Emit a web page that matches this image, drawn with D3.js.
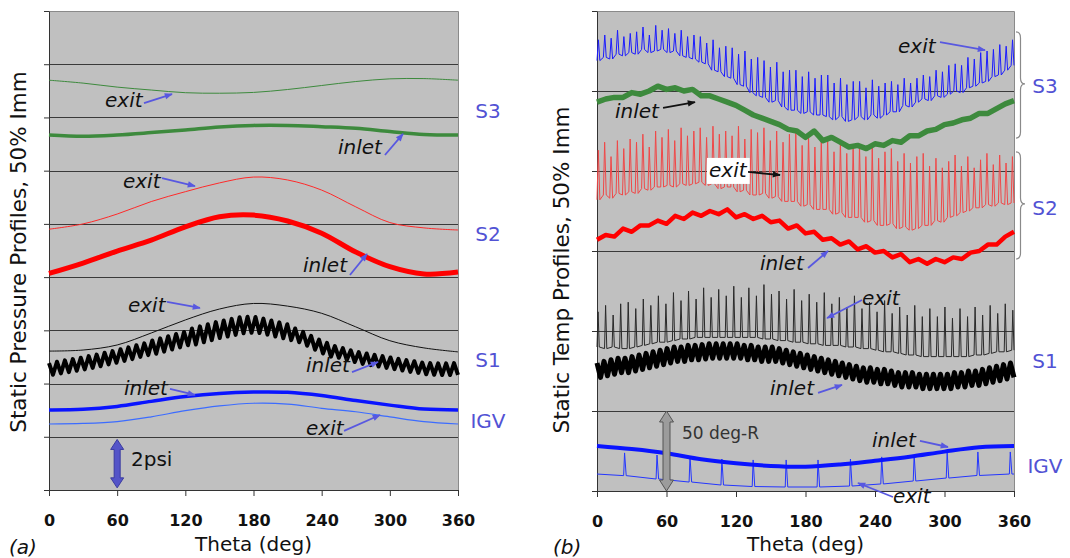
<!DOCTYPE html>
<html><head><meta charset="utf-8">
<script src="https://cdn.jsdelivr.net/npm/d3@7"></script>
<style>
body{margin:0;background:#fff}
svg{display:block}
text{font-family:"DejaVu Sans",sans-serif}
</style>
</head><body>
<svg id="chart" width="1070" height="558"></svg>
<script>
// ---------------- DATA ----------------
const thetaTicks = [0, 60, 120, 180, 240, 300, 360];
const pressureGridPsi = [0, 2, 4, 6, 8, 10, 12, 14, 16, 18];
const tempGridDegR = [0, 50, 100, 150, 200, 250, 300];
const profileTheta = [0, 30, 60, 90, 120, 150, 180, 210, 240, 270, 300, 330, 360];

// (a) static pressure profiles, psi (offset stacked)
const pS3Exit   = [15.40, 15.29, 15.14, 15.03, 14.93, 14.91, 14.94, 15.05, 15.20, 15.35, 15.45, 15.46, 15.40];
const pS3Inlet  = [13.34, 13.29, 13.34, 13.43, 13.53, 13.64, 13.70, 13.70, 13.65, 13.59, 13.47, 13.36, 13.34];
const pS2Exit   = [9.80, 10.00, 10.37, 10.84, 11.21, 11.54, 11.76, 11.65, 11.27, 10.64, 10.05, 9.85, 9.77];
const pS2Inlet  = [8.14, 8.53, 8.98, 9.39, 9.89, 10.27, 10.33, 10.11, 9.65, 8.94, 8.39, 8.12, 8.19];
const pS1Exit   = [5.22, 5.26, 5.45, 5.90, 6.39, 6.80, 7.01, 6.91, 6.64, 6.13, 5.61, 5.34, 5.19];
const pIGVInlet = [3.01, 3.03, 3.14, 3.33, 3.51, 3.63, 3.68, 3.67, 3.55, 3.36, 3.19, 3.04, 3.01];
const pIGVExit  = [2.48, 2.50, 2.57, 2.75, 2.98, 3.16, 3.26, 3.23, 3.07, 2.94, 2.75, 2.57, 2.48];
// S1 inlet: blade-passing oscillation, per-cycle max / min (52 cycles)
const pS1InletHi = [4.77,4.82,4.87,4.92,4.97,5.03,5.09,5.16,5.22,5.29,5.36,5.44,5.51,5.62,5.70,5.78,5.86,5.94,6.07,6.15,
  6.23,6.31,6.37,6.43,6.49,6.51,6.50,6.44,6.37,6.30,6.23,6.07,5.94,5.79,5.65,5.53,5.41,5.33,5.25,5.18,
  5.13,5.08,5.03,4.98,4.93,4.88,4.84,4.79,4.77,4.76,4.76,4.77];
const pS1InletLo = [4.33,4.38,4.43,4.48,4.53,4.59,4.65,4.72,4.78,4.85,4.92,5.00,5.07,5.12,5.20,5.28,5.36,5.44,5.47,5.55,
  5.63,5.71,5.77,5.83,5.89,5.91,5.90,5.84,5.77,5.70,5.63,5.55,5.42,5.27,5.13,5.01,4.97,4.89,4.81,4.74,
  4.69,4.64,4.59,4.54,4.49,4.44,4.40,4.35,4.33,4.32,4.32,4.33];

// (b) static temperature profiles, deg-R (offset stacked)
const tS3ExitLo = [269,271,270,273,272,274,273,276,274,275,276,274,275,272,271,270,268,267,263,262,259,258,254,253,249,247,
  246,243,244,240,238,238,236,237,235,235,234,232,234,231,232,234,232,235,233,235,237,237,241,240,243,
  245,244,247,246,248,250,249,252,253,255,256,259,260,263,266];
const tS3ExitHi = [282,285,283,288,284,286,287,290,285,291,288,289,286,288,284,285,284,280,282,277,278,277,273,275,270,271,
  269,265,268,262,263,263,259,262,258,260,260,255,258,254,256,256,252,257,253,255,256,254,258,255,258,
  260,259,263,262,266,267,266,271,270,274,275,276,279,278,282];
const tS3Inlet = [243,245,246,246,249,248,250,253,251,252,250,251,247,247,245,243,241,238,235,233,231,229,226,225,221,
  225,219,221,218,215,216,214,217,216,219,218,222,222,225,226,229,230,232,233,236,236,239,242,244];
const tS2ExitLo = [182,185,183,186,185,187,186,189,188,190,190,191,190,192,191,192,193,191,192,189,190,190,187,188,185,185,
  186,183,184,181,181,181,178,179,176,176,176,173,174,171,171,171,168,169,166,166,167,164,165,163,164,
  166,166,169,168,171,172,174,175,177,177,179,178,180,179,180];
const tS2ExitHi = [213,218,209,219,214,220,218,223,215,225,221,226,219,227,222,225,227,221,228,223,225,222,228,220,226,224,
  227,219,225,218,223,224,216,222,215,219,221,212,219,211,216,216,209,215,208,212,214,206,211,205,209,
  211,203,208,202,206,210,203,209,202,207,211,204,210,205,209];
const tS2Inlet = [157,160,159,164,162,166,166,169,167,172,170,174,172,175,173,176,171,173,170,172,168,169,164,166,161,
  162,157,158,154,156,151,153,149,150,146,148,143,145,142,145,143,146,145,149,150,154,154,159,162];
const tS1ExitLo = [90,89,90,89,89,90,91,92,93,93,94,95,95,96,96,96,96,96,96,96,96,96,95,95,94,94,93,93,
  92,92,91,91,91,90,90,89,89,88,87,87,86,85,85,84,84,84,84,84,84,84,85,85,86,87,87,88];
const tS1ExitHi = [112,116,110,117,118,114,120,116,122,117,124,119,125,120,127,121,126,122,128,121,127,122,129,123,125,120,126,119,
  123,118,124,117,121,115,122,114,118,112,119,111,115,110,116,109,114,109,115,108,114,109,115,110,116,111,117,113];
const tS1InletHi = [80,81,82,83,83,84,85,86,87,88,89,90,90,91,91,91.5,92,92,92,92,92,91,91,90,90,90,89,88,87,86,
  85,84,83,82,81,80,79,78,77,77,76,76,75,74,74,74,73,73,73,73,73,74,74,75,75,76,77,78,79,80];
const tS1InletLo = [71,72,73,74,74,75,76,77,78,79,80,81,81,82,82,82.5,83,83,83,83,83,82,82,81,81,81,80,79,78,77,
  76,75,74,73,72,71,70,69,68,68,67,67,66,65,65,65,64,64,64,64,64,65,65,66,66,67,68,69,70,71];
const tIGVInlet = [28.1, 26.2, 23.6, 19.8, 17.3, 15.7, 15.2, 16.6, 18.9, 21.4, 24.6, 27.3, 28.1];
const tIGVExitSpikeTheta = [24, 52, 80.5, 108, 135, 163.5, 191, 219, 246, 274, 302.5, 329, 357];
const tIGVExitTop  = [23.8, 22.5, 21.3, 20.0, 19.4, 19.4, 19.4, 20.0, 21.3, 22.5, 23.8, 24.4, 24.4];
const tIGVExitFoot = [9.6, 7.5, 5.6, 3.75, 2.8, 2.5, 2.5, 3.1, 4.4, 6.25, 8.1, 9.7, 10.6];
const tIGVExitEnds = [10.6, 10.6];

// ---------------- DRAWING ----------------
const svg = d3.select('#chart');
svg.append('rect').attr('width', 1070).attr('height', 558).attr('fill', '#fff');
const defs = svg.append('defs');
function marker(id, color) {
  defs.append('marker').attr('id', id).attr('viewBox', '0 0 10 10').attr('refX', 9).attr('refY', 5)
    .attr('markerWidth', 10).attr('markerHeight', 8).attr('markerUnits', 'userSpaceOnUse').attr('orient', 'auto')
    .append('path').attr('d', 'M0,1 L10,5 L0,9 Z').attr('fill', color);
}
const BLUE_NOTE = '#5858e0', LABEL = '#5252d4';
marker('arrBlue', BLUE_NOTE); marker('arrBlack', '#111');

function makePanel(o) {
  const x = d3.scaleLinear().domain([0, 360]).range([o.x0, o.x1]);
  const y = d3.scaleLinear().domain(o.yDomain).range([o.y1, o.y0]);
  const g = svg.append('g');
  g.append('rect').attr('x', o.x0).attr('y', o.y0).attr('width', o.x1 - o.x0).attr('height', o.y1 - o.y0).attr('fill', '#c0c0c0');
  g.selectAll('line.grid').data(o.grid.filter(v => v > o.yDomain[0] && v < o.yDomain[1])).join('line')
    .attr('x1', o.x0).attr('x2', o.x1).attr('y1', d => Math.round(y(d)) + 0.5).attr('y2', d => Math.round(y(d)) + 0.5)
    .attr('stroke', '#3a3a3a').attr('stroke-width', 1.1);
  g.append('path').attr('d', `M${o.x0},${o.y0 + 0.5}H${o.x1 + 0.5}V${o.y1}`).attr('fill', 'none').attr('stroke', '#8a8a8a');
  const ay = d3.axisLeft(y).tickValues(o.grid).tickSize(5).tickSizeOuter(0).tickFormat('');
  const gy = g.append('g').attr('transform', `translate(${o.x0},0)`).call(ay);
  gy.selectAll('path,line').attr('stroke', '#333');
  const ax = d3.axisBottom(x).tickValues(thetaTicks).tickSize(6).tickSizeOuter(0).tickPadding(19);
  const gx = g.append('g').attr('transform', `translate(0,${o.y1})`).call(ax);
  gx.selectAll('path,line').attr('stroke', '#333');
  gx.selectAll('text').attr('font-family', '"DejaVu Sans", sans-serif').attr('font-size', 16).attr('font-weight', 'bold').attr('fill', '#111');
  svg.append('text').attr('x', (o.x0 + o.x1) / 2).attr('y', 551).attr('text-anchor', 'middle')
    .attr('font-size', 20).attr('fill', '#111').text('Theta (deg)');
  svg.append('text').attr('transform', `translate(${o.titleX},${o.titleY}) rotate(-90)`).attr('text-anchor', 'middle')
    .attr('font-size', 21.5).attr('fill', '#111').text(o.title);
  svg.append('text').attr('x', o.tagX).attr('y', 554).attr('font-size', 20).attr('font-style', 'italic').attr('fill', '#111').text(o.tag);
  return { x, y, g };
}

const A = makePanel({ x0: 49, x1: 458, y0: 11, y1: 490, yDomain: [0, 18], grid: pressureGridPsi,
  title: 'Static Pressure Profiles, 50% Imm', titleX: 26, titleY: 252, tag: '(a)', tagX: 9 });
const B = makePanel({ x0: 597, x1: 1014, y0: 11, y1: 491, yDomain: [0, 300], grid: tempGridDegR,
  title: 'Static Temp Profiles, 50% Imm', titleX: 569, titleY: 270, tag: '(b)', tagX: 553 });

function drawPts(p, pts, color, width, curve) {
  p.g.append('path').datum(pts)
    .attr('d', d3.line().x(d => p.x(d[0])).y(d => p.y(d[1])).curve(curve || d3.curveLinear))
    .attr('fill', 'none').attr('stroke', color).attr('stroke-width', width).attr('stroke-linejoin', 'round');
}
const profile = vals => vals.map((v, i) => [profileTheta[i], v]);
const uniform = vals => vals.map((v, i) => [i * 360 / (vals.length - 1), v]);
function zigzag(hi, lo) {
  const m = 2 * hi.length - 1, pts = [];
  hi.forEach((h, i) => { pts.push([2 * i * 360 / m, h]); pts.push([(2 * i + 1) * 360 / m, lo[i]]); });
  return pts;
}
function spikes(lo, hi, rise, fall) {
  const n = lo.length, d = 360 / (n - 1 + fall), pts = [];
  lo.forEach((l, i) => { const t = i * d; pts.push([t, l], [t + rise * d, hi[i]], [t + fall * d, l]); });
  return pts;
}
const smooth = d3.curveCatmullRom.alpha(0.5);

// panel (a)
drawPts(A, profile(pS3Exit), '#3d8a3d', 1, smooth);
drawPts(A, profile(pS3Inlet), '#3d8a3d', 3.5, smooth);
drawPts(A, profile(pS2Exit), '#ff2a2a', 1, smooth);
drawPts(A, profile(pS2Inlet), '#ff0000', 5, smooth);
drawPts(A, profile(pS1Exit), '#111', 1, smooth);
drawPts(A, zigzag(pS1InletHi, pS1InletLo), '#000', 4);
drawPts(A, profile(pIGVExit), '#3c6cff', 1.2, smooth);
drawPts(A, profile(pIGVInlet), '#0a14ff', 3.5, smooth);

// panel (b)
drawPts(B, spikes(tS3ExitLo, tS3ExitHi, 0.22, 0.45), '#1c1cff', 1);
drawPts(B, spikes(tS2ExitLo, tS2ExitHi, 0.2, 0.45), '#f04848', 1);
drawPts(B, spikes(tS1ExitLo, tS1ExitHi, 0.14, 0.3), '#2a2a2a', 1);
drawPts(B, uniform(tS3Inlet), '#3d8a3d', 5.5);
drawPts(B, uniform(tS2Inlet), '#ff0000', 4.5);
drawPts(B, zigzag(tS1InletHi, tS1InletLo), '#000', 5);
const igvExitPts = [[0, tIGVExitEnds[0]]];
tIGVExitSpikeTheta.forEach((t, i) => {
  igvExitPts.push([t - 1, tIGVExitFoot[i]], [t - 0.2, tIGVExitTop[i]], [t + 1.2, tIGVExitFoot[i]]);
});
igvExitPts.push([360, tIGVExitEnds[1]]);
drawPts(B, igvExitPts, '#2436ff', 1);
drawPts(B, profile(tIGVInlet), '#0a14ff', 4, smooth);

// ---------------- ANNOTATIONS ----------------
const notesA = [
  { t: 'exit',  at: [49.3, 14.39],  from: [83.6, 14.54],  to: [108.3, 14.88] },
  { t: 'inlet', at: [254.4, 12.63], from: [295.7, 12.59], to: [311.6, 13.38] },
  { t: 'exit',  at: [65.1, 11.35],  from: [99.5, 11.72],  to: [128.5, 11.42] },
  { t: 'inlet', at: [223.6, 8.19],  from: [264.9, 8.08],  to: [279.9, 8.87] },
  { t: 'exit',  at: [69.5, 6.69],   from: [103.9, 7.07],  to: [132.9, 6.84] },
  { t: 'inlet', at: [226.2, 4.43],  from: [266.7, 4.43],  to: [289.6, 4.81] },
  { t: 'inlet', at: [66.0, 3.57],   from: [106.5, 3.80],  to: [128.5, 3.57] },
  { t: 'exit',  at: [226.2, 2.07],  from: [259.7, 2.22],  to: [291.3, 2.82] }
];
const notesB = [
  { t: 'exit',  at: [259.9, 273.8], from: [296.1, 280.6], to: [335, 275.6] },
  { t: 'inlet', at: [15.5, 233.1],  from: [57, 239.4],    to: [84.6, 243.1], dark: true },
  { t: 'exit',  at: [96.7, 196.3],  from: [130.4, 199.4], to: [158, 197.5], dark: true, box: true },
  { t: 'inlet', at: [140.7, 138.1], from: [182.2, 139.4], to: [199.4, 150] },
  { t: 'exit',  at: [228.8, 116.3], from: [228.8, 119.4], to: [198.6, 108.1] },
  { t: 'inlet', at: [149.4, 60],    from: [190.8, 61.3],  to: [211.5, 66.3] },
  { t: 'inlet', at: [237.4, 27.5],  from: [278.8, 31.3],  to: [303, 27.5] },
  { t: 'exit',  at: [255.5, -7.5],  from: [255.5, -3.75], to: [225.3, 5] }
];
function drawNotes(p, list) {
  list.forEach(n => {
    const g = svg.append('g');
    const txt = g.append('text').attr('x', p.x(n.at[0])).attr('y', p.y(n.at[1]))
      .attr('font-size', 20).attr('font-style', 'italic').attr('fill', '#111').text(n.t);
    if (n.box) {
      const b = txt.node().getBBox();
      g.insert('rect', 'text').attr('x', b.x - 2).attr('y', b.y).attr('width', b.width + 4).attr('height', b.height + 2).attr('fill', '#fff');
    }
    g.append('line').attr('x1', p.x(n.from[0])).attr('y1', p.y(n.from[1])).attr('x2', p.x(n.to[0])).attr('y2', p.y(n.to[1]))
      .attr('stroke', n.dark ? '#111' : BLUE_NOTE).attr('stroke-width', 1.8)
      .attr('marker-end', n.dark ? 'url(#arrBlack)' : 'url(#arrBlue)');
  });
}
drawNotes(A, notesA);
drawNotes(B, notesB);

function dblArrow(cx, ya, yb, fill, stroke, sw, hw, hl) {
  svg.append('path').attr('d',
    `M${cx},${ya}L${cx + hw},${ya + hl}L${cx + sw},${ya + hl}L${cx + sw},${yb - hl}L${cx + hw},${yb - hl}L${cx},${yb}` +
    `L${cx - hw},${yb - hl}L${cx - sw},${yb - hl}L${cx - sw},${ya + hl}L${cx - hw},${ya + hl}Z`)
    .attr('fill', fill).attr('stroke', stroke).attr('stroke-width', 1);
}
dblArrow(A.x(60), A.y(1.9), A.y(0.08), '#5454c8', '#3a3aa0', 3, 6.5, 10);
svg.append('text').attr('x', A.x(72.2)).attr('y', A.y(0.9)).attr('font-size', 20).attr('fill', '#111').text('2psi');
dblArrow(B.x(60), B.y(50), B.y(0), '#9c9c9c', '#555', 3.5, 7, 11);
svg.append('text').attr('x', B.x(73.4)).attr('y', B.y(32.5)).attr('font-size', 17).attr('fill', '#333').text('50 deg-R');

// stage labels
const stageA = [{ s: 'S3', v: 13.98 }, { s: 'S2', v: 9.36 }, { s: 'S1', v: 4.62 }, { s: 'IGV', v: 2.33 }];
const stageB = [{ s: 'S3', v: 248.75 }, { s: 'S2', v: 172.5 }, { s: 'S1', v: 76.9 }, { s: 'IGV', v: 11.25 }];
stageA.forEach(d => svg.append('text').attr('x', 488).attr('y', A.y(d.v)).attr('text-anchor', 'middle')
  .attr('font-size', 20).attr('fill', LABEL).text(d.s));
stageB.forEach(d => svg.append('text').attr('x', 1045).attr('y', B.y(d.v)).attr('text-anchor', 'middle')
  .attr('font-size', 20).attr('fill', LABEL).text(d.s));

// braces
function brace(x0, ya, yb, ym, w) {
  const x1 = x0 + w * 0.5, x2 = x0 + w, r = 6;
  return `M${x0},${ya}Q${x1},${ya} ${x1},${ya + r}L${x1},${ym - r}Q${x1},${ym} ${x2},${ym}Q${x1},${ym} ${x1},${ym + r}L${x1},${yb - r}Q${x1},${yb} ${x0},${yb}`;
}
[[286.9, 220.6, 254.4], [211.9, 145, 179.4]].forEach(b => {
  svg.append('path').attr('d', brace(1016, B.y(b[0]), B.y(b[1]), B.y(b[2]), 9))
    .attr('fill', 'none').attr('stroke', '#8a8a8a').attr('stroke-width', 1.2);
});
</script>
</body></html>
